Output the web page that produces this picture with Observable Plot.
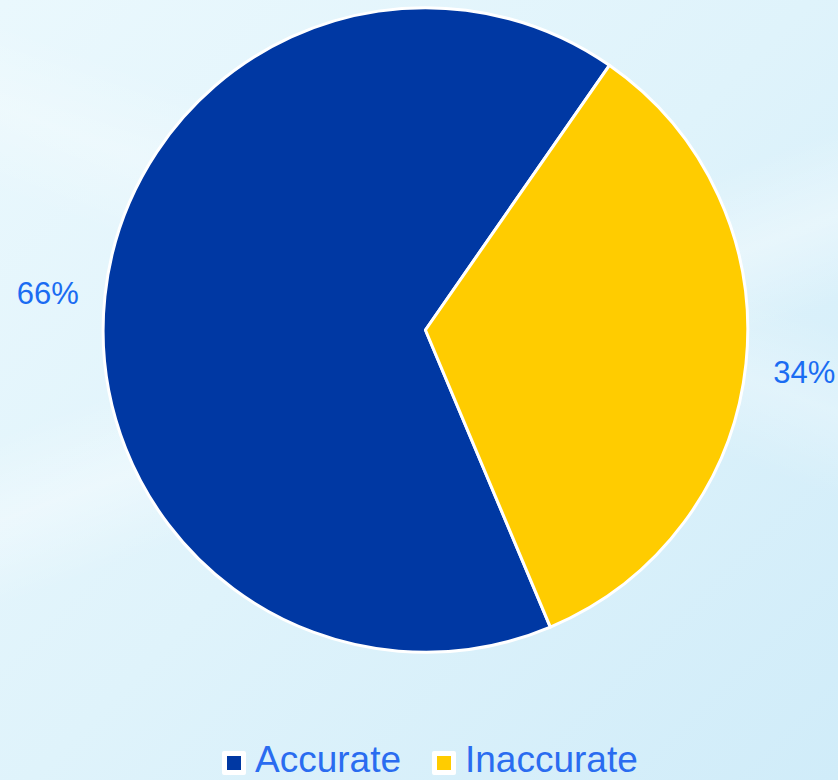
<!DOCTYPE html>
<html>
<head>
<meta charset="utf-8">
<script src="https://cdn.jsdelivr.net/npm/d3@7"></script>
<script src="https://cdn.jsdelivr.net/npm/@observablehq/plot@0.6"></script>
<style>
  html, body { margin: 0; padding: 0; }
  body {
    position: relative;
    width: 838px; height: 780px; overflow: hidden;
    font-family: "Liberation Sans", Arial, sans-serif;
    background:
      linear-gradient(160deg, rgba(255,255,255,0) 40%, rgba(255,255,255,0.35) 48%, rgba(255,255,255,0) 56%),
      linear-gradient(200deg, rgba(255,255,255,0) 30%, rgba(255,255,255,0.25) 38%, rgba(255,255,255,0) 46%),
      linear-gradient(135deg, #eaf8fd 0%, #dff3fb 50%, #d0ecf9 100%);
  }
  #chart svg { display: block; background: transparent; }
  #legend {
    position: absolute; left: 222px; top: 742px;
    display: flex; align-items: flex-start;
    color: #2a6cf0; font-size: 37px; line-height: 35px; white-space: nowrap;
  }
  .item { display: flex; align-items: flex-start; margin-right: 31px; }
  .sw { width: 14px; height: 14px; border: 5px solid #fff; border-radius: 2px; margin-top: 9px; margin-right: 9px; }
</style>
</head>
<body>
<div id="chart"></div>
<div id="legend"></div>
<script>
const categories = ["Accurate", "Inaccurate"];
const shares = [66, 34];
const labels = ["66%", "34%"];
const colors = ["#0038a3", "#ffcc00"];

const startDeg = 157.2;
const data = categories.map((c, i) => ({category: c, value: shares[i], label: labels[i]}));
const arcs = d3.pie().value(d => d.value).sort(null)
  .startAngle(startDeg * Math.PI / 180)
  .endAngle(startDeg * Math.PI / 180 + 2 * Math.PI)(data);

const labelR = 1.18;
const labelData = arcs.map(a => {
  const m = (a.startAngle + a.endAngle) / 2;
  return {x: Math.sin(m) * labelR, y: Math.cos(m) * labelR, label: a.data.label};
});

const W = 838, H = 690;
const pieMark = (index, scales, values, dimensions, context) => {
  const cx = scales.x(0), cy = scales.y(0);
  const r = scales.x(1) - scales.x(0);
  const arc = d3.arc().innerRadius(0).outerRadius(r);
  const g = d3.create("svg:g").attr("transform", `translate(${cx},${cy})`);
  g.selectAll("path").data(arcs).join("path")
    .attr("d", arc)
    .attr("fill", d => scales.color(d.data.category))
    .attr("stroke", "#fff")
    .attr("stroke-width", 3)
    .attr("stroke-linejoin", "round");
  return g.node();
};

const plot = Plot.plot({
  width: W, height: H,
  margin: 0,
  x: {domain: [-1.32, 1.28], axis: null},
  y: {domain: [-1.117, 1.024], axis: null},
  color: {domain: categories, range: colors},
  style: {background: "transparent"},
  marks: [
    pieMark,
    Plot.text(labelData, {x: "x", y: "y", text: "label", fill: "#1a6cf2", fontSize: 31, fontFamily: "Liberation Sans, Arial, sans-serif", dy: 3})
  ]
});
document.getElementById("chart").appendChild(plot);

const legend = document.getElementById("legend");
categories.forEach((c, i) => {
  const it = document.createElement("div");
  it.className = "item";
  const sw = document.createElement("div");
  sw.className = "sw";
  sw.style.background = colors[i];
  const t = document.createElement("span");
  t.textContent = c;
  it.appendChild(sw); it.appendChild(t);
  legend.appendChild(it);
});
</script>
</body>
</html>
